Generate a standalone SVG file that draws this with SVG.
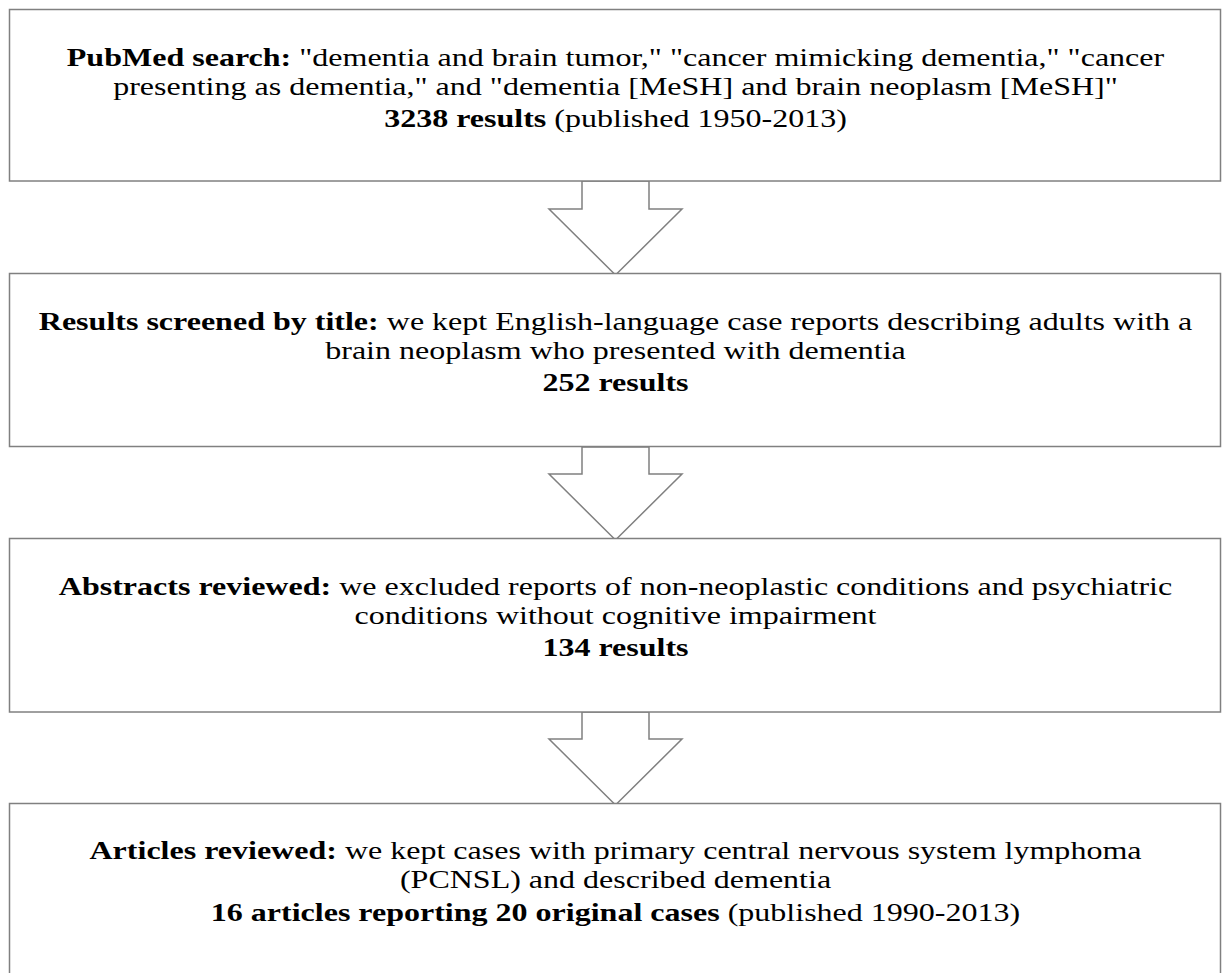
<svg xmlns="http://www.w3.org/2000/svg" width="1222" height="973" viewBox="0 0 1222 973">
<style>
.box{fill:#fff;stroke:#808080;stroke-width:1.5}
.arr{fill:#fff;stroke:#808080;stroke-width:1.5;stroke-linejoin:miter}
text{font-family:"Liberation Serif","Times New Roman",serif;font-size:26px;fill:#000;text-anchor:middle}
.b{font-weight:bold}
</style>
<rect width="1222" height="973" fill="#fff"/>
<g id="connectors">
<polygon class="arr" points="582,181 649,181 649,209 682,209 615.5,275 549,209 582,209"/>
<polygon class="arr" points="582,447 649,447 649,474 682,474 615.5,540 549,474 582,474"/>
<polygon class="arr" points="582,712 649,712 649,739 682,739 615.5,805 549,739 582,739"/>
</g>
<g id="node1">
<rect class="box" x="9.5" y="9.5" width="1211" height="171.5"/>
<g transform="translate(615.5,0) scale(1.232,1)">
<text x="0" y="66"><tspan class="b">PubMed search:</tspan> "dementia and brain tumor," "cancer mimicking dementia," "cancer</text>
<text x="0" y="95">presenting as dementia," and "dementia [MeSH] and brain neoplasm [MeSH]"</text>
<text x="0" y="127"><tspan class="b">3238 results</tspan> (published 1950-2013)</text>
</g>
</g>
<g id="node2">
<rect class="box" x="9.5" y="273.5" width="1211" height="173"/>
<g transform="translate(615.5,0) scale(1.232,1)">
<text x="0" y="330"><tspan class="b">Results screened by title:</tspan> we kept English-language case reports describing adults with a</text>
<text x="0" y="359">brain neoplasm who presented with dementia</text>
<text x="0" y="391" class="b">252 results</text>
</g>
</g>
<g id="node3">
<rect class="box" x="9.5" y="538.5" width="1211" height="173.5"/>
<g transform="translate(615.5,0) scale(1.232,1)">
<text x="0" y="595"><tspan class="b">Abstracts reviewed:</tspan> we excluded reports of non-neoplastic conditions and psychiatric</text>
<text x="0" y="624">conditions without cognitive impairment</text>
<text x="0" y="656" class="b">134 results</text>
</g>
</g>
<g id="node4">
<rect class="box" x="9.5" y="803.5" width="1211" height="200"/>
<g transform="translate(615.5,0) scale(1.232,1)">
<text x="0" y="859"><tspan class="b">Articles reviewed:</tspan> we kept cases with primary central nervous system lymphoma</text>
<text x="0" y="888">(PCNSL) and described dementia</text>
<text x="0" y="921"><tspan class="b">16 articles reporting 20 original cases</tspan> (published 1990-2013)</text>
</g>
</g>
</svg>
